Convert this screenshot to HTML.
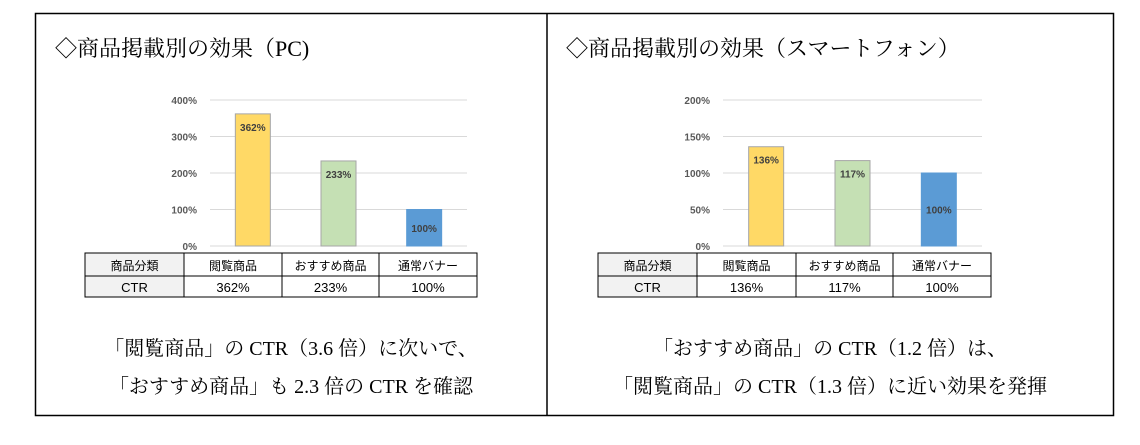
<!DOCTYPE html>
<html><head><meta charset="utf-8"><style>
body{margin:0;background:#fff;width:1140px;height:440px;overflow:hidden}
svg text{font-family:"Liberation Sans","Noto Sans CJK JP",sans-serif}
.serif{font-family:"Liberation Serif","Noto Serif CJK SC",serif !important}
</style></head><body>
<svg id="s" width="1140" height="440" xmlns="http://www.w3.org/2000/svg">
<rect x="35.5" y="13.5" width="1078" height="402" fill="none" stroke="#000" stroke-width="1.5"/>
<line x1="547" y1="13" x2="547" y2="416" stroke="#000" stroke-width="1.5"/>
<text class="serif" x="55" y="56" font-size="22">◇商品掲載別の効果（PC)</text>
<text class="serif" x="566" y="56" font-size="22">◇商品掲載別の効果（スマートフォン）</text>
<text class="serif" x="291" y="355" font-size="20" text-anchor="middle">「閲覧商品」の CTR（3.6 倍）に次いで、</text>
<text class="serif" x="291" y="393" font-size="20" text-anchor="middle">「おすすめ商品」も 2.3 倍の CTR を確認</text>
<text class="serif" x="830" y="355" font-size="20" text-anchor="middle">「おすすめ商品」の CTR（1.2 倍）は、</text>
<text class="serif" x="830" y="393" font-size="20" text-anchor="middle">「閲覧商品」の CTR（1.3 倍）に近い効果を発揮</text>
<g id="pc"></g>
<g id="sp"></g>
</svg>
<script>
const categories = ["閲覧商品","おすすめ商品","通常バナー"];
const pcValues = [362,233,100];
const spValues = [136,117,100];
const pcTicks = [0,100,200,300,400];
const spTicks = [0,50,100,150,200];
const colors = ["#ffd966","#c5e0b4","#5b9bd5"];
const strokes = ["#a6a6a6","#a6a6a6","#5b9bd5"];
const NS="http://www.w3.org/2000/svg";
function mk(parent,tag,attrs,txt){const e=document.createElementNS(NS,tag);for(const k in attrs)e.setAttribute(k,attrs[k]);if(txt!==undefined)e.textContent=txt;parent.appendChild(e);return e;}
function chart(g,prefix,values,ticks,x0,x1,labelX,tblX){
  const yTop=100,yBot=246,max=ticks[ticks.length-1];
  const y=v=>yBot-(v/max)*(yBot-yTop);
  const band=(x1-x0)/categories.length;
  const xc=i=>x0+band*(i+0.5);
  ticks.forEach(t=>{
    const l=mk(g,"line",{x1:x0,x2:x1,y1:y(t),y2:y(t),stroke:"#d9d9d9","stroke-width":1});
    
    
    const tx=mk(g,"text",{x:labelX,y:y(t)+4,"font-size":10,"font-weight":"bold","text-anchor":"end",fill:"#595959"},t+"%");
    
    
  });
  values.forEach((v,i)=>{
    const r=mk(g,"rect",{x:xc(i)-17.5,y:y(v),width:35,height:yBot-y(v),fill:colors[i],stroke:strokes[i],"stroke-width":1});
    
    
    const ly=i===2?(y(v)+yBot)/2+4:y(v)+17;
    const t=mk(g,"text",{x:xc(i),y:ly,"font-size":10,"font-weight":"bold","text-anchor":"middle",fill:"#404040"},v+"%");
    
    
  });
  const rows=[253,276,297];
  mk(g,"rect",{x:tblX[0],y:rows[0],width:tblX[1]-tblX[0],height:rows[2]-rows[0],fill:"#f2f2f2"});
  mk(g,"rect",{x:tblX[0],y:rows[0],width:tblX[4]-tblX[0],height:rows[2]-rows[0],fill:"none",stroke:"#000","stroke-width":1});
  mk(g,"line",{x1:tblX[0],x2:tblX[4],y1:rows[1],y2:rows[1],stroke:"#000"});
  for(let c=1;c<4;c++) mk(g,"line",{x1:tblX[c],x2:tblX[c],y1:rows[0],y2:rows[2],stroke:"#000"});
  const head=["商品分類"].concat(categories), row=["CTR"].concat(values.map(v=>v+"%"));
  for(let c=0;c<4;c++){
    const cx=(tblX[c]+tblX[c+1])/2;
    const h=mk(g,"text",{x:cx,y:270,"font-size":12,"text-anchor":"middle",fill:"#000"},head[c]);
    
    
    const d=mk(g,"text",{x:cx,y:292,"font-size":13,"text-anchor":"middle",fill:"#000"},row[c]);
    
    
  }
}
chart(document.getElementById("pc"),"pc",pcValues,pcTicks,210,467,197,[85,184,282,379,477]);
chart(document.getElementById("sp"),"sp",spValues,spTicks,723,982,710,[598,697,796,893,991]);
</script>
</body></html>
